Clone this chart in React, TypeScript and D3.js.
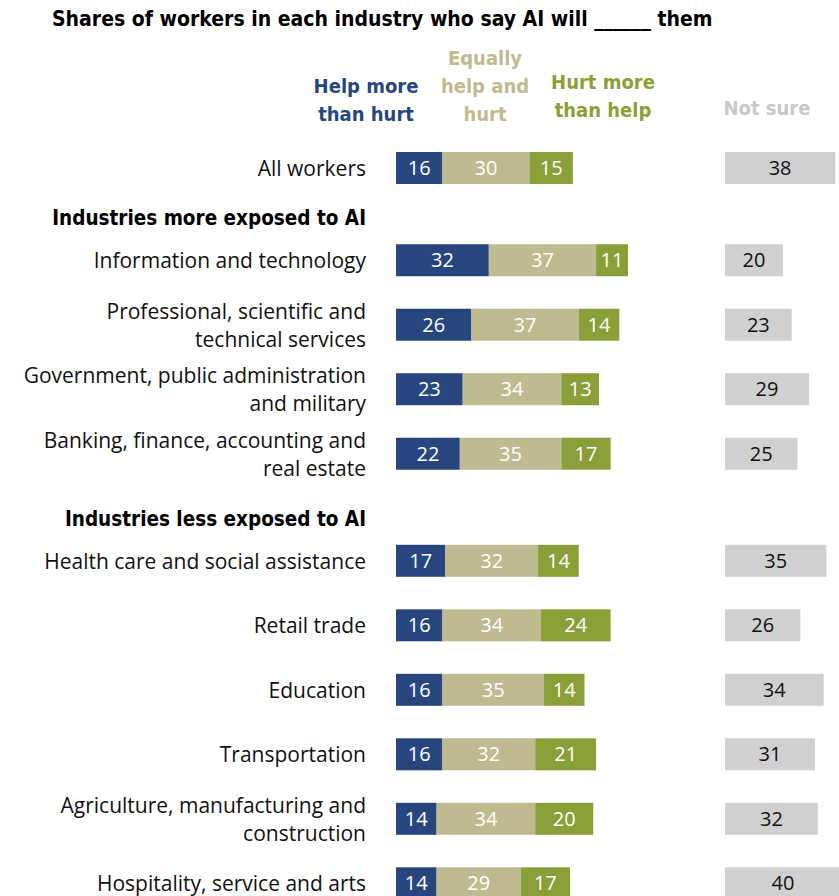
import React from "react";
import * as d3 from "d3";

const categories = [
  "All workers",
  "Information and technology",
  "Professional, scientific and|technical services",
  "Government, public administration|and military",
  "Banking, finance, accounting and|real estate",
  "Health care and social assistance",
  "Retail trade",
  "Education",
  "Transportation",
  "Agriculture, manufacturing and|construction",
  "Hospitality, service and arts",
];
const groupOf = [0, 1, 1, 1, 1, 2, 2, 2, 2, 2, 2];
const groupHeaders = ["Industries more exposed to AI", "Industries less exposed to AI"];
const helpMore = [16, 32, 26, 23, 22, 17, 16, 16, 16, 14, 14];
const equally = [30, 37, 37, 34, 35, 32, 34, 35, 32, 34, 29];
const hurtMore = [15, 11, 14, 13, 17, 14, 24, 14, 21, 20, 17];
const notSure = [38, 20, 23, 29, 25, 35, 26, 34, 31, 32, 40];

const seriesNames = ["Help more|than hurt", "Equally|help and|hurt", "Hurt more|than help"];
const seriesColors = ["#27467e", "#bfba8f", "#8a9f37"];
const notSureName = "Not sure";
const notSureColor = "#d0d0d0";
const title = "Shares of workers in each industry who say AI will ______ them";

const W = 839;
const H = 896;
const labelFont = "'Open Sans', 'Liberation Sans', Arial, sans-serif";
const numFont = "'Open Sans', 'Liberation Sans', Arial, sans-serif";
const boldFont = "'Liberation Sans Narrow', 'DejaVu Sans Condensed', 'Liberation Sans', Arial, sans-serif";

export default function App() {
  const x = d3.scaleLinear().domain([0, 100]).range([0, 290]);
  const barX0 = 396;
  const nsX0 = 725;
  const barH = 32;
  const groupGap = [0, 0.43, 1.09];
  const slot = (i: number) => i + groupGap[groupOf[i]];
  const y = d3.scaleLinear().domain([0, 11.09]).range([168, 883.3]);
  const rowY = categories.map((_, i) => y(slot(i)));
  const headerY = [y(0.775), y(5.44)];

  const stack = d3
    .stack<number>()
    .keys(["0", "1", "2"])
    .value((i, k) => [helpMore, equally, hurtMore][+k][i]);
  const stacked = stack(d3.range(categories.length));

  const legendX = [366, 485, 603];
  const legendBottom = [114, 114, 110];

  return (
    <svg
      width={W}
      height={H}
      style={{ position: "absolute", left: 0, top: 0, background: "#fff" }}
    >
      <text x={52} y={26} fontFamily={boldFont} fontWeight="bold" fontSize={21} fill="#000">
        {title}
      </text>
      {seriesNames.map((n, si) => {
        const lines = n.split("|");
        return (
          <text
            key={si}
            textAnchor="middle"
            fontFamily={boldFont}
            fontWeight="bold"
            fontSize={20}
            fill={seriesColors[si]}
          >
            {lines.map((l, li) => (
              <tspan key={li} x={legendX[si]} y={legendBottom[si] + 7 - (lines.length - 1 - li) * 28}>
                {l}
              </tspan>
            ))}
          </text>
        );
      })}
      <text
        x={767}
        y={115}
        textAnchor="middle"
        fontFamily={boldFont}
        fontWeight="bold"
        fontSize={20}
        fill="#c8c8c8"
      >
        {notSureName}
      </text>
      {groupHeaders.map((h, gi) => (
        <text
          key={gi}
          x={366}
          y={headerY[gi] + 7}
          textAnchor="end"
          fontFamily={boldFont}
          fontWeight="bold"
          fontSize={20.5}
          fill="#000"
        >
          {h}
        </text>
      ))}
      {categories.map((c, i) => {
        const lines = c.split("|");
        const cy = rowY[i];
        return (
          <text key={i} textAnchor="end" fontFamily={labelFont} fontSize={21} fill="#111">
            {lines.map((l, li) => (
              <tspan key={li} x={366} y={cy + 8 + (li - (lines.length - 1) / 2) * 28}>
                {l}
              </tspan>
            ))}
          </text>
        );
      })}
      {stacked.map((s, si) => (
        <g key={si}>
          {s.map((d, i) => (
            <g key={i}>
              <rect
                x={barX0 + x(d[0])}
                y={rowY[i] - barH / 2}
                width={x(d[1]) - x(d[0])}
                height={barH}
                fill={seriesColors[si]}
              />
              <text
                x={barX0 + x((d[0] + d[1]) / 2)}
                y={rowY[i] + 7}
                textAnchor="middle"
                fontFamily={numFont}
                fontSize={20}
                fill="#fff"
              >
                {d[1] - d[0]}
              </text>
            </g>
          ))}
        </g>
      ))}
      {notSure.map((v, i) => (
        <g key={i}>
          <rect x={nsX0} y={rowY[i] - barH / 2} width={x(v)} height={barH} fill={notSureColor} />
          <text
            x={nsX0 + x(v) / 2}
            y={rowY[i] + 7}
            textAnchor="middle"
            fontFamily={numFont}
            fontSize={20}
            fill="#111"
          >
            {v}
          </text>
        </g>
      ))}
    </svg>
  );
}
